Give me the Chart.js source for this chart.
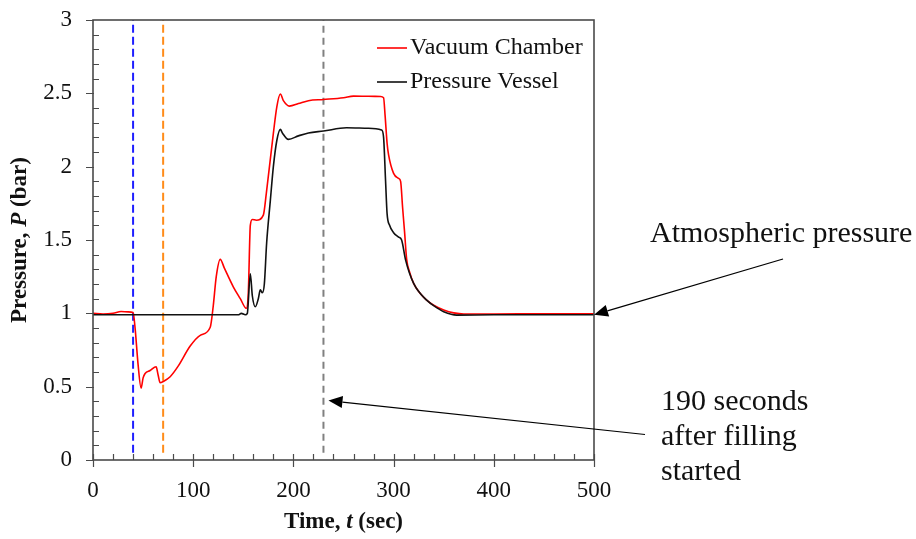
<!DOCTYPE html>
<html>
<head>
<meta charset="utf-8">
<script src="https://cdn.jsdelivr.net/npm/chart.js@4.4.0/dist/chart.umd.min.js"></script>
<style>
  html, body { margin: 0; padding: 0; background: #fff; }
  #wrap { width: 916px; height: 539px; }
</style>
</head>
<body>
<div id="wrap"><canvas id="chart" width="916" height="539"></canvas></div>
<script>
// time (sec) and pressure (bar)
const vacuumTime = [0, 10, 20, 28, 35, 40, 42, 45, 48, 50, 52, 57, 63, 65, 67, 70, 77, 85, 97, 107, 117, 120, 123, 127, 131, 140, 147, 153, 155, 157, 159, 163, 170, 173, 180, 183.5, 187, 190, 196, 205, 215, 230, 250, 260, 275, 287, 290, 291.5, 293.5, 295, 300, 305, 307, 309, 311, 313, 316, 320, 326, 333, 340, 350, 360, 370, 400, 450, 500];
const vacuumP = [1.0, 0.995, 1.0, 1.012, 1.01, 1.005, 0.9, 0.65, 0.49, 0.56, 0.59, 0.61, 0.636, 0.58, 0.527, 0.535, 0.568, 0.64, 0.777, 0.85, 0.905, 1.05, 1.25, 1.368, 1.31, 1.181, 1.1, 1.034, 1.14, 1.6, 1.64, 1.635, 1.67, 1.82, 2.227, 2.41, 2.495, 2.45, 2.413, 2.43, 2.45, 2.458, 2.47, 2.481, 2.48, 2.478, 2.47, 2.35, 2.16, 2.08, 1.954, 1.92, 1.9, 1.72, 1.55, 1.37, 1.28, 1.204, 1.14, 1.09, 1.055, 1.023, 1.003, 0.995, 0.995, 0.997, 0.997];

const vesselTime = [0, 100, 145, 148, 152, 154, 157, 159, 162, 165, 167, 169, 171, 173.3, 177, 180, 183.5, 187, 189, 195, 205, 215, 230, 253, 275, 288, 290, 292, 293.5, 296, 300, 305, 308, 312, 320, 333, 345, 350, 363, 400, 500];
const vesselP = [0.99, 0.99, 0.99, 1.0, 0.99, 1.0, 1.27, 1.12, 1.045, 1.1, 1.16, 1.14, 1.2, 1.48, 1.77, 2.0, 2.18, 2.254, 2.23, 2.186, 2.21, 2.23, 2.243, 2.265, 2.262, 2.25, 2.2, 1.9, 1.68, 1.6, 1.55, 1.52, 1.5, 1.363, 1.204, 1.09, 1.03, 1.011, 0.988, 0.99, 0.99];

// dashed markers (sec)
const markerTimes = [40, 70, 230];
const markerColors = ['#1f1fff', '#ff8c1a', '#808080'];

const seriesNames = ['Vacuum Chamber', 'Pressure Vessel'];
const seriesColors = ['#ff0000', '#111111'];

const xTicks = [0, 100, 200, 300, 400, 500];
const yTicks = [0, 0.5, 1, 1.5, 2, 2.5, 3];

const SERIF = '"Liberation Serif", "Times New Roman", serif';
const frameColor = '#4a4a4a';

function pts(xs, ys) {
  return xs.map((x, i) => ({x: x, y: ys[i]}));
}

const datasets = [
  {
    label: seriesNames[0],
    data: pts(vacuumTime, vacuumP),
    borderColor: seriesColors[0],
    borderWidth: 1.6,
    pointRadius: 0,
    cubicInterpolationMode: 'monotone',
    order: 2
  },
  {
    label: seriesNames[1],
    data: pts(vesselTime, vesselP),
    borderColor: seriesColors[1],
    borderWidth: 1.6,
    pointRadius: 0,
    cubicInterpolationMode: 'monotone',
    order: 1
  }
];

markerTimes.forEach((t, i) => {
  datasets.push({
    label: 'marker' + i,
    data: [{x: t, y: 0.05}, {x: t, y: 3}],
    borderColor: markerColors[i],
    borderWidth: 2,
    borderDash: i === 2 ? [7, 5] : [8, 4],
    pointRadius: 0,
    order: 3
  });
});

function mixedText(ctx, parts, x, y, size) {
  // parts: [text, italic]
  let total = 0;
  parts.forEach(p => {
    ctx.font = (p[1] ? 'italic ' : '') + 'bold ' + size + 'px ' + SERIF;
    total += ctx.measureText(p[0]).width;
  });
  let cx = x - total / 2;
  ctx.textAlign = 'left';
  parts.forEach(p => {
    ctx.font = (p[1] ? 'italic ' : '') + 'bold ' + size + 'px ' + SERIF;
    ctx.fillText(p[0], cx, y);
    cx += ctx.measureText(p[0]).width;
  });
}

function arrow(ctx, x1, y1, x2, y2) {
  const ang = Math.atan2(y2 - y1, x2 - x1);
  const len = 14, half = 6;
  const bx = x2 - len * Math.cos(ang), by = y2 - len * Math.sin(ang);
  ctx.beginPath();
  ctx.moveTo(x1, y1);
  ctx.lineTo(bx, by);
  ctx.strokeStyle = '#000';
  ctx.lineWidth = 1.2;
  ctx.stroke();
  ctx.beginPath();
  ctx.moveTo(x2, y2);
  ctx.lineTo(bx + half * Math.sin(ang), by - half * Math.cos(ang));
  ctx.lineTo(bx - half * Math.sin(ang), by + half * Math.cos(ang));
  ctx.closePath();
  ctx.fillStyle = '#000';
  ctx.fill();
}

const decorations = {
  id: 'decorations',
  afterDraw(chart) {
    const ctx = chart.ctx;
    const a = chart.chartArea;
    const xs = chart.scales.x, ys = chart.scales.y;
    ctx.save();

    // frame
    ctx.strokeStyle = frameColor;
    ctx.lineWidth = 1.6;
    ctx.strokeRect(a.left, a.top, a.right - a.left, a.bottom - a.top);

    // ticks
    ctx.lineWidth = 1.2;
    ctx.beginPath();
    for (let v = 0; v <= 500; v += 20) {
      const px = Math.round(xs.getPixelForValue(v)) + 0.5;
      ctx.moveTo(px, a.bottom - 6);
      ctx.lineTo(px, v % 100 === 0 ? a.bottom + 7 : a.bottom);
    }
    for (let k = 0; k <= 30; k++) {
      const py = Math.round(ys.getPixelForValue(k / 10)) + 0.5;
      if (k % 5 === 0) {
        ctx.moveTo(a.left - 7, py);
        ctx.lineTo(a.left + 1, py);
      } else {
        ctx.moveTo(a.left, py);
        ctx.lineTo(a.left + 6, py);
      }
    }
    ctx.stroke();

    // axis titles
    ctx.fillStyle = '#111';
    ctx.textBaseline = 'middle';
    mixedText(ctx, [['Time, ', false], ['t', true], [' (sec)', false]], (a.left + a.right) / 2, 522, 23);
    ctx.save();
    ctx.translate(20, (a.top + a.bottom) / 2);
    ctx.rotate(-Math.PI / 2);
    mixedText(ctx, [['Pressure, ', false], ['P', true], [' (bar)', false]], 0, 0, 23);
    ctx.restore();

    // legend
    ctx.font = '24px ' + SERIF;
    ctx.textAlign = 'left';
    ctx.textBaseline = 'middle';
    seriesNames.forEach((name, i) => {
      const ly = 48 + i * 34;
      ctx.beginPath();
      ctx.moveTo(377, ly);
      ctx.lineTo(407, ly);
      ctx.strokeStyle = seriesColors[i];
      ctx.lineWidth = 1.6;
      ctx.stroke();
      ctx.fillStyle = '#111';
      ctx.fillText(name, 410, ly);
    });

    // annotations
    ctx.font = '30px ' + SERIF;
    ctx.textBaseline = 'alphabetic';
    ctx.fillStyle = '#111';
    ctx.fillText('Atmospheric pressure', 650, 242);
    ['190 seconds', 'after filling', 'started'].forEach((s, i) => {
      ctx.fillText(s, 661, 410 + i * 35);
    });
    arrow(ctx, 783, 259, xs.getPixelForValue(500), ys.getPixelForValue(0.99));
    arrow(ctx, 645, 434.5, xs.getPixelForValue(235), ys.getPixelForValue(0.405));

    ctx.restore();
  }
};

new Chart(document.getElementById('chart'), {
  type: 'line',
  data: { datasets: datasets },
  options: {
    responsive: false,
    animation: false,
    events: [],
    layout: { padding: { left: 0, right: 322, top: 20, bottom: 0 } },
    plugins: {
      legend: { display: false },
      tooltip: { enabled: false },
      title: { display: false }
    },
    scales: {
      x: {
        type: 'linear',
        min: 0,
        max: 500,
        afterFit(scale) {
          scale.height = 79;
          scale.paddingLeft = 0;
          scale.paddingRight = 0;
        },
        afterBuildTicks(scale) { scale.ticks = xTicks.map(v => ({value: v})); },
        grid: { display: false, drawTicks: false },
        border: { display: false },
        ticks: {
          font: { family: SERIF, size: 23 },
          color: '#111',
          padding: 17,
          maxRotation: 0,
          callback: v => String(v)
        }
      },
      y: {
        type: 'linear',
        min: 0,
        max: 3,
        afterFit(scale) {
          scale.width = 93;
          scale.paddingTop = 0;
          scale.paddingBottom = 0;
        },
        afterBuildTicks(scale) { scale.ticks = yTicks.map(v => ({value: v})); },
        grid: { display: false, drawTicks: false },
        border: { display: false },
        ticks: {
          font: { family: SERIF, size: 23 },
          color: '#111',
          padding: 21,
          callback: v => String(v)
        }
      }
    }
  },
  plugins: [decorations]
});
</script>
</body>
</html>
